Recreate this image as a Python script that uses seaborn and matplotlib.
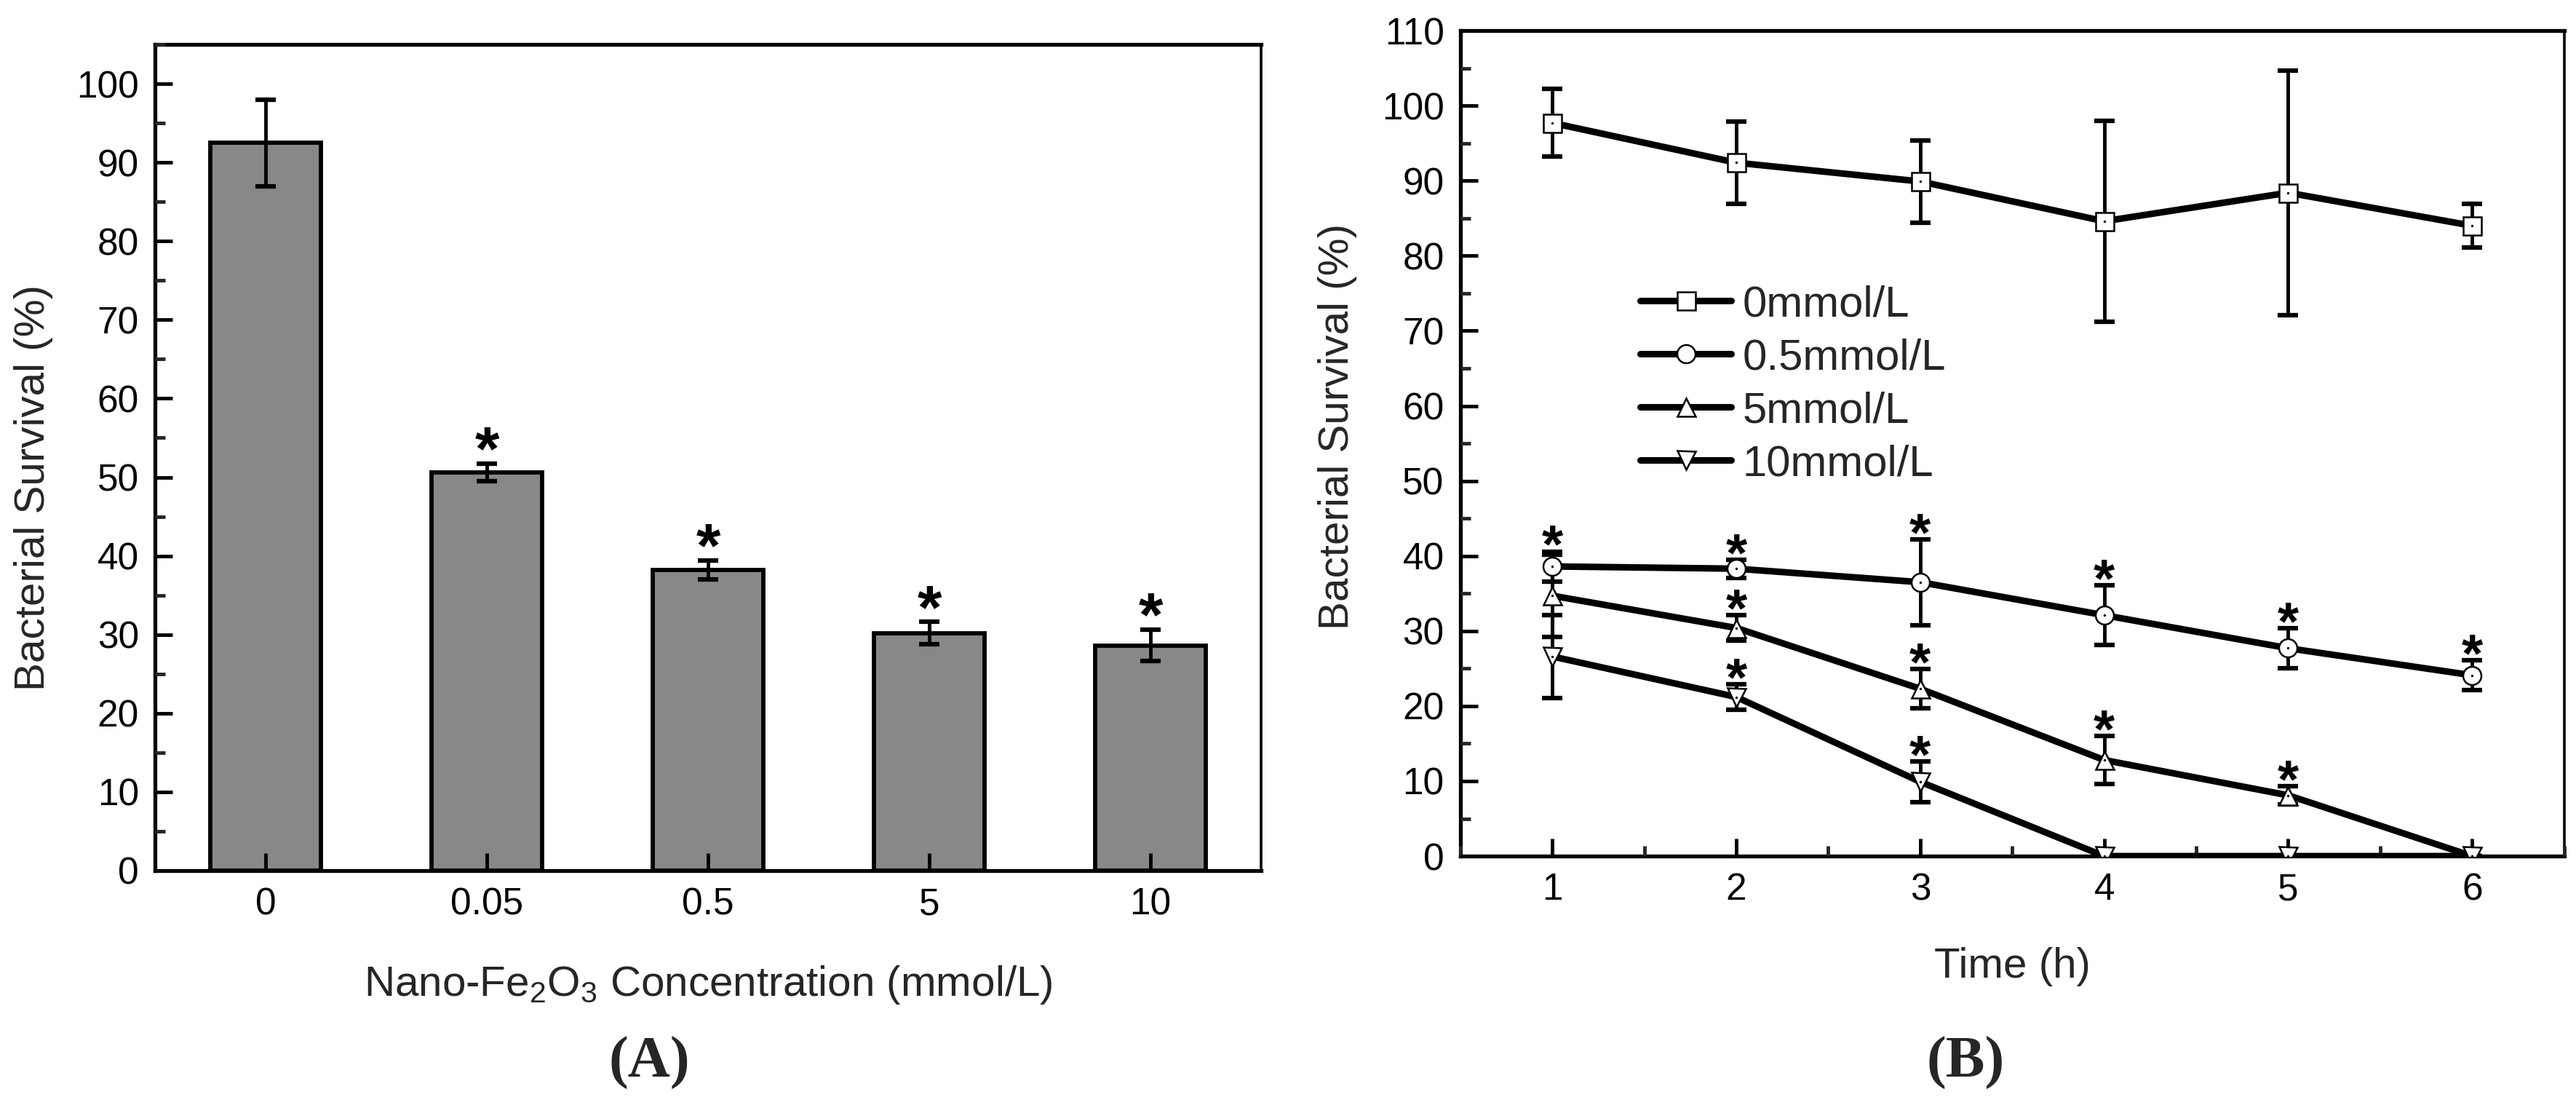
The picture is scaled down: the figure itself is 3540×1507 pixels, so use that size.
import matplotlib
matplotlib.use('Agg')
import matplotlib.pyplot as plt
from matplotlib.ticker import MultipleLocator
import numpy as np
import pandas as pd
import seaborn as sns

# panel A: survival vs nano-Fe2O3 concentration (mean, sd)
conc_labels = ['0', '0.05', '0.5', '5', '10']
conc_mean = [92.5, 50.6, 38.2, 30.2, 28.6]
conc_sd = [5.5, 1.1, 1.2, 1.4, 2.0]
conc_star = [False, True, True, True, True]

# panel B: survival vs time for each concentration
hours = [1, 2, 3, 4, 5, 6]
series_names = ['0mmol/L', '0.5mmol/L', '5mmol/L', '10mmol/L']
surv_0 = [97.7, 92.4, 89.9, 84.6, 88.4, 84.0]
sd_0 = [4.5, 5.5, 5.5, 13.4, 16.3, 2.9]
surv_05 = [38.6, 38.3, 36.5, 32.1, 27.7, 24.1]
sd_05 = [2.0, 1.2, 5.7, 4.0, 2.7, 2.0]
surv_5 = [34.7, 30.4, 22.3, 12.8, 8.1, 0.0]
sd_5 = [5.5, 1.7, 2.6, 3.2, 1.2, 0.0]
surv_10 = [26.6, 21.2, 9.9, 0.0, 0.0, 0.0]
sd_10 = [5.5, 1.7, 2.7, 0.0, 0.0, 0.0]
star_0 = [False] * 6
star_05 = [True] * 6
star_5 = [False, True, True, True, True, False]
star_10 = [False, True, True, False, False, False]

sns.set_theme(style='ticks')
plt.rcParams['font.family'] = ['Liberation Sans', 'DejaVu Sans']
plt.rcParams['mathtext.default'] = 'regular'

fig = plt.figure(figsize=(35.4, 15.07), dpi=100)
axA = fig.add_axes([0.0602, 0.2064, 0.4294, 0.7531])
axB = fig.add_axes([0.5669, 0.2196, 0.4285, 0.7525])


def style_axes(ax):
    for side in ['left', 'bottom', 'top']:
        ax.spines[side].set_linewidth(3.8)
        ax.spines[side].set_color('black')
    ax.spines['right'].set_linewidth(2.6)
    ax.spines['right'].set_color('black')
    ax.tick_params(axis='both', which='major', direction='in', length=17, width=3.5,
                   labelsize=37, pad=16, colors='black', top=False, right=False)
    ax.tick_params(axis='both', which='minor', direction='in', length=10, width=3.5,
                   top=False, right=False)
    ax.set_axisbelow(False)


# ---- panel A ----
dfA = pd.DataFrame({'conc': conc_labels, 'survival': conc_mean})
sns.barplot(data=dfA, x='conc', y='survival', order=conc_labels, color='#888888',
            saturation=1, width=0.5, edgecolor='black', linewidth=4.2,
            errorbar=None, ax=axA)
axA.errorbar(np.arange(len(conc_labels)), conc_mean, yerr=conc_sd, fmt='none',
             ecolor='black', elinewidth=3.5, capsize=10, capthick=4.5, zorder=3)
for i, (m, s, st) in enumerate(zip(conc_mean, conc_sd, conc_star)):
    if st:
        axA.annotate('*', xy=(i, m + s), xytext=(0, -6), textcoords='offset points',
                     ha='center', va='baseline', fontsize=62, fontweight='bold',
                     color='black')
style_axes(axA)
axA.set_xlim(-0.5, 4.5)
axA.set_ylim(0, 105)
axA.yaxis.set_major_locator(MultipleLocator(10))
axA.yaxis.set_minor_locator(MultipleLocator(5))
axA.set_xlabel('Nano-Fe$_2$O$_3$ Concentration (mmol/L)', fontsize=42, va='baseline')
axA.set_ylabel('Bacterial Survival (%)', fontsize=42, va='center')
axA.xaxis.set_label_coords(0.5, -0.152)
axA.yaxis.set_label_coords(-0.110, 0.463)

# ---- panel B ----
surv_list = [surv_0, surv_05, surv_5, surv_10]
sd_list = [sd_0, sd_05, sd_5, sd_10]
star_list = [star_0, star_05, star_5, star_10]
markers = ['s', 'o', '^', 'v']
for name, surv, sd, mk in zip(series_names, surv_list, sd_list, markers):
    axB.errorbar(hours, surv, yerr=sd, fmt='none', ecolor='black', elinewidth=3.5,
                 capsize=10, capthick=4.5, zorder=2)
    sns.lineplot(x=hours, y=surv, ax=axB, color='black', linewidth=6.5, marker=mk,
                 markersize=18, markerfacecolor='white', markeredgecolor='black',
                 markeredgewidth=1.8, label=name, zorder=3)
    sns.scatterplot(x=hours, y=surv, ax=axB, color='black', s=6, marker='o',
                    linewidth=0, zorder=4, legend=False)
for surv, sd, flags in zip(surv_list, sd_list, star_list):
    for h, m, s, st in zip(hours, surv, sd, flags):
        if st:
            axB.annotate('*', xy=(h, m + s), xytext=(0, -11), textcoords='offset points',
                         ha='center', va='baseline', fontsize=54, fontweight='bold',
                         color='black')
style_axes(axB)
axB.set_xlim(0.5, 6.5)
axB.set_ylim(0, 110)
axB.xaxis.set_major_locator(MultipleLocator(1))
axB.xaxis.set_minor_locator(MultipleLocator(0.5))
axB.yaxis.set_major_locator(MultipleLocator(10))
axB.yaxis.set_minor_locator(MultipleLocator(5))
axB.set_xlabel('Time (h)', fontsize=42, va='baseline')
axB.set_ylabel('Bacterial Survival (%)', fontsize=42, va='center')
axB.xaxis.set_label_coords(0.5, -0.147)
axB.yaxis.set_label_coords(-0.111, 0.52)
axB.legend(loc='upper left', bbox_to_anchor=(0.163, 0.692), frameon=False, fontsize=43,
           handlelength=2.1, handletextpad=0.25, labelspacing=0.3, borderpad=0,
           borderaxespad=0, numpoints=1)

fig.text(0.252, 0.031, '(A)', fontsize=58, fontweight='bold', ha='center', va='center',
         family=['Liberation Serif', 'DejaVu Serif'])
fig.text(0.763, 0.031, '(B)', fontsize=58, fontweight='bold', ha='center', va='center',
         family=['Liberation Serif', 'DejaVu Serif'])

fig.savefig('out.png', dpi=100, facecolor='white')
